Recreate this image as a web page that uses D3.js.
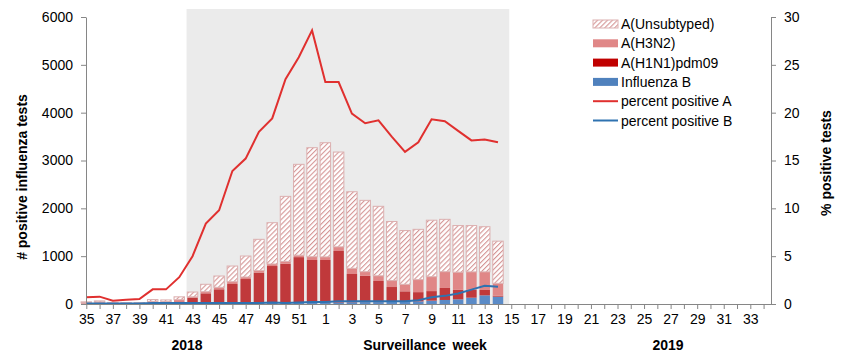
<!DOCTYPE html>
<html>
<head>
<meta charset="utf-8">
<script src="https://cdn.jsdelivr.net/npm/d3@7"></script>
<style>
  body { margin: 0; background: #fff; }
  text { font-family: "Liberation Sans", Arial, sans-serif; fill: #000; }
</style>
</head>
<body>
<div id="chart"></div>
<script>
// surveillance weeks 2018/35 .. 2019/34
var weeks = ["35","36","37","38","39","40","41","42","43","44","45","46","47","48","49","50","51","52",
             "1","2","3","4","5","6","7","8","9","10","11","12","13","14","15","16","17","18","19","20",
             "21","22","23","24","25","26","27","28","29","30","31","32","33","34"];
var tickWeeks = weeks.filter(function(d){ return +d % 2 == 1; });

var zeros = new Array(20).fill(0);
var nulls = new Array(20).fill(null);

// number of positive tests per type (stack order bottom -> top)
var fluB  = [5,5,3,3,3,8,8,10, 10,15,15,15,20,20,20,25,25,30,
             30,30,35,40,40,45,45,55,70,84,98,132,181,153].concat(zeros);
var h1n1  = [5,5,5,5,5,10,12,45, 122,208,292,403,502,635,774,815,955,890,
             890,1078,592,550,441,310,220,193,200,251,198,165,112,21].concat(zeros);
var h3n2  = [15,30,10,8,8,35,30,35, 18,34,42,48,42,42,42,50,40,69,
             65,87,119,85,109,135,146,262,301,340,369,375,379,258].concat(zeros);
var unsub = [20,25,15,12,12,40,35,60, 100,155,236,328,439,655,864,1360,1900,2279,
             2387,1982,1601,1492,1452,1235,1125,1051,1181,1095,975,968,944,882].concat(zeros);

// percent positive (right axis)
var pctA = [0.7,0.77,0.35,0.45,0.52,1.53,1.53,2.8, 5.0,8.4,9.8,13.9,15.2,18.0,19.4,23.5,25.8,28.6,
            23.2,23.2,19.9,18.9,19.2,17.5,15.9,16.9,19.3,19.1,18.1,17.1,17.2,16.9].concat(nulls);
var pctB = [0.05,0.05,0.05,0.05,0.05,0.1,0.1,0.1, 0.1,0.1,0.1,0.1,0.1,0.1,0.15,0.1,0.15,0.2,
            0.2,0.3,0.3,0.3,0.3,0.3,0.3,0.4,0.7,0.85,1.1,1.5,1.9,1.8].concat(nulls);

var leftTicks = [0,1000,2000,3000,4000,5000,6000];
var rightTicks = [0,5,10,15,20,25,30];
var shadeWeeks = ["43","14"];

var seriesKeys = ["fluB","h1n1","h3n2","unsub"];
var seriesNames = {unsub: "A(Unsubtyped)", h3n2: "A(H3N2)", h1n1: "A(H1N1)pdm09", fluB: "Influenza B"};
var color = {fluB: "#5b8bc7", h1n1: "#c0393b", h3n2: "#e08787", unsub: "url(#hatch)"};

var W = 849, H = 362;
var plotLeft = 86, plotRight = 771, plotBottom = 304, plotTop = 17;

var svg = d3.select("#chart").append("svg")
            .attr("width", W)
            .attr("height", H);

// hatch pattern for unsubtyped
var defs = svg.append("defs");
var pat = defs.append("pattern")
    .attr("id", "hatch")
    .attr("patternUnits", "userSpaceOnUse")
    .attr("width", 3.5)
    .attr("height", 3.5)
    .attr("patternTransform", "rotate(45)");
pat.append("rect").attr("width", 3.5).attr("height", 3.5).attr("fill", "#fff");
pat.append("line")
    .attr("x1", 0).attr("y1", 0).attr("x2", 0).attr("y2", 3.5)
    .attr("stroke", "#d49494").attr("stroke-width", 2.2);

// scales
var x = d3.scalePoint()
          .domain(weeks)
          .range([plotLeft + 0.3, plotLeft + 0.3 + (weeks.length - 1) * 13.28]);
var step = x.step();
var barW = step * 0.79;

var yLeft = d3.scaleLinear().domain([0, 6000]).range([plotBottom, plotTop]);
var yRight = d3.scaleLinear().domain([0, 30]).range([plotBottom, plotTop]);

// grey shaded season
svg.append("rect")
    .attr("x", x(shadeWeeks[0]) - step * 0.45)
    .attr("y", 9)
    .attr("width", x(shadeWeeks[1]) + step * 0.85 - (x(shadeWeeks[0]) - step * 0.45))
    .attr("height", plotBottom - 9)
    .attr("fill", "#ebebeb");

// stacked bars
var table = weeks.map(function(w, i) {
    return {week: w, fluB: fluB[i], h1n1: h1n1[i], h3n2: h3n2[i], unsub: unsub[i]};
});
var stacked = d3.stack().keys(seriesKeys)(table);

svg.append("g")
    .selectAll("g")
    .data(stacked)
    .enter().append("g")
        .attr("fill", function(d){ return color[d.key]; })
        .attr("stroke", function(d){ return d.key == "unsub" ? "#dcb0b0" : "none"; })
        .attr("stroke-width", 1)
        .selectAll("rect")
        .data(function(d){ return d.filter(function(p){ return p[1] > p[0]; }); })
        .enter().append("rect")
            .attr("x", function(d){ return x(d.data.week) - barW / 2; })
            .attr("y", function(d){ return yLeft(d[1]); })
            .attr("width", barW)
            .attr("height", function(d){ return yLeft(d[0]) - yLeft(d[1]); });

// percent lines
var line = d3.line()
    .defined(function(d){ return d.v != null; })
    .x(function(d){ return x(d.week); })
    .y(function(d){ return yRight(d.v); });

svg.append("path")
    .datum(weeks.map(function(w, i){ return {week: w, v: pctB[i]}; }))
    .attr("fill", "none")
    .attr("stroke", "#2f72b0")
    .attr("stroke-width", 2)
    .attr("d", line);

svg.append("path")
    .datum(weeks.map(function(w, i){ return {week: w, v: pctA[i]}; }))
    .attr("fill", "none")
    .attr("stroke", "#e0302f")
    .attr("stroke-width", 2)
    .attr("d", line);

// axes
var axisColor = "#868686";

var gLeft = svg.append("g")
    .attr("transform", "translate(" + plotLeft + ",0)")
    .call(d3.axisLeft(yLeft).tickValues(leftTicks).tickFormat(d3.format("d"))
          .tickSize(5).tickPadding(8).tickSizeOuter(0));
var gRight = svg.append("g")
    .attr("transform", "translate(" + plotRight + ",0)")
    .call(d3.axisRight(yRight).tickValues(rightTicks).tickFormat(d3.format("d"))
          .tickSize(5).tickPadding(8).tickSizeOuter(0));
var gBottom = svg.append("g")
    .attr("transform", "translate(0," + plotBottom + ")")
    .call(d3.axisBottom(x).tickSize(5).tickPadding(5).tickSizeOuter(0)
          .tickFormat(function(d){ return tickWeeks.indexOf(d) >= 0 ? d : ""; }));
gBottom.select(".domain").attr("d", "M" + plotLeft + ",0.5H" + plotRight);

[gLeft, gRight, gBottom].forEach(function(g) {
    g.select(".domain").attr("stroke", axisColor);
    g.selectAll(".tick line").attr("stroke", axisColor);
    g.selectAll("text")
        .attr("font-size", 14)
        .attr("font-family", "Liberation Sans, Arial, sans-serif")
        .attr("fill", "#000");
});

// axis titles
svg.append("text")
    .attr("transform", "translate(27,177) rotate(-90)")
    .attr("text-anchor", "middle")
    .attr("font-size", 14)
    .attr("font-weight", "bold")
    .text("# positive influenza tests");

svg.append("text")
    .attr("transform", "translate(831,163) rotate(-90)")
    .attr("text-anchor", "middle")
    .attr("font-size", 14)
    .attr("font-weight", "bold")
    .text("% positive tests");

svg.append("text")
    .attr("x", 187).attr("y", 350)
    .attr("text-anchor", "middle")
    .attr("font-size", 14)
    .attr("font-weight", "bold")
    .text("2018");

svg.append("text")
    .attr("x", 425).attr("y", 350)
    .attr("text-anchor", "middle")
    .attr("font-size", 14)
    .attr("font-weight", "bold")
    .attr("word-spacing", 3)
    .text("Surveillance week");

svg.append("text")
    .attr("x", 668).attr("y", 350)
    .attr("text-anchor", "middle")
    .attr("font-size", 14)
    .attr("font-weight", "bold")
    .text("2019");

// legend
var legendItems = [
    {name: seriesNames.unsub, type: "box", fill: "url(#hatch)", stroke: "#dcb0b0"},
    {name: seriesNames.h3n2, type: "box", fill: color.h3n2},
    {name: seriesNames.h1n1, type: "box", fill: "#c00000"},
    {name: seriesNames.fluB, type: "box", fill: "#4f81bd"},
    {name: "percent positive A", type: "line", fill: "#e0302f"},
    {name: "percent positive B", type: "line", fill: "#2f72b0"}
];

var legend = svg.append("g").attr("transform", "translate(593,24)");
var rowH = 19.3;

legend.selectAll("rect")
    .data(legendItems.filter(function(d){ return d.type == "box"; }))
    .enter().append("rect")
        .attr("x", 0)
        .attr("y", function(d, i){ return i * rowH - 4; })
        .attr("width", 25)
        .attr("height", 8)
        .attr("fill", function(d){ return d.fill; })
        .attr("stroke", function(d){ return d.stroke || "none"; });

legend.selectAll("line")
    .data(legendItems)
    .enter().filter(function(d){ return d.type == "line"; }).append("line")
        .attr("x1", 0).attr("x2", 25)
        .attr("y1", function(d){ return legendItems.indexOf(d) * rowH; })
        .attr("y2", function(d){ return legendItems.indexOf(d) * rowH; })
        .attr("stroke", function(d){ return d.fill; })
        .attr("stroke-width", 2);

legend.selectAll("text")
    .data(legendItems)
    .enter().append("text")
        .attr("x", 28)
        .attr("y", function(d, i){ return i * rowH + 5; })
        .attr("font-size", 14)
        .text(function(d){ return d.name; });
</script>
</body>
</html>
